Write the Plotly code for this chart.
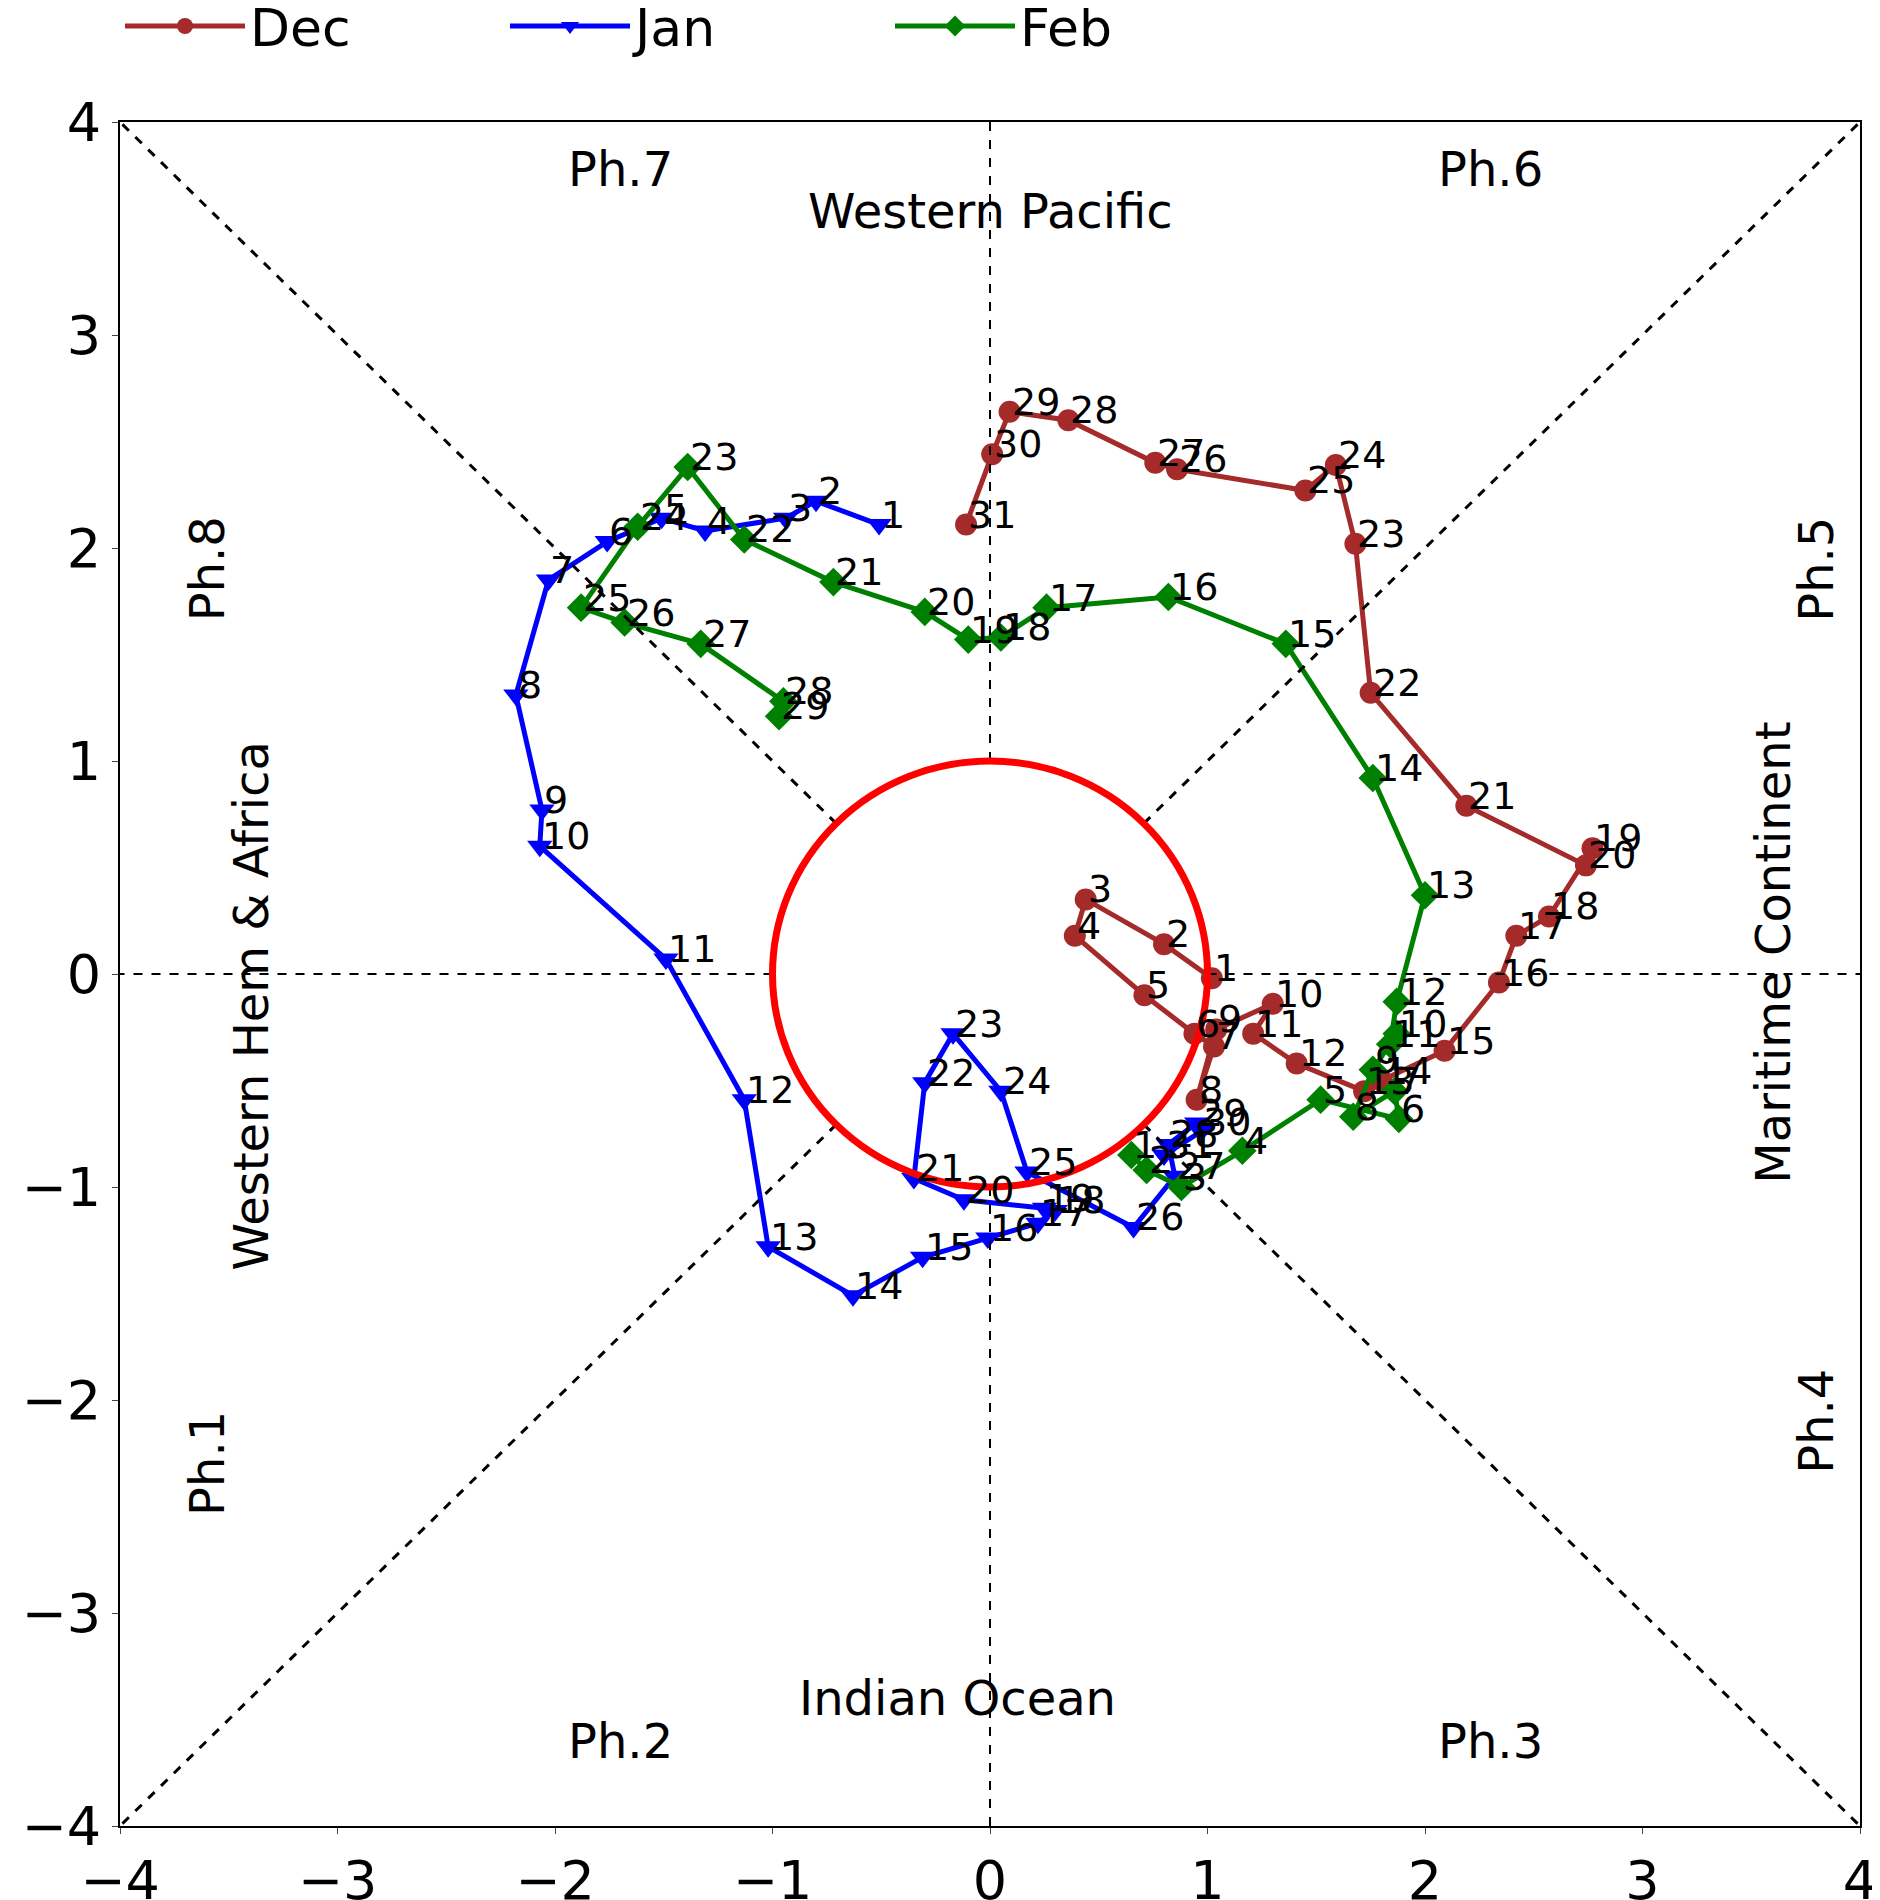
import numpy as np
import plotly.graph_objects as go

# Step 1: RMM1 / RMM2 values for each day
dec = [(1.02, -0.02), (0.80, 0.14), (0.44, 0.35), (0.39, 0.18), (0.71, -0.10), (0.94, -0.28),
       (1.03, -0.34), (0.95, -0.59), (1.04, -0.26), (1.30, -0.14), (1.21, -0.28), (1.41, -0.42),
       (1.72, -0.55), (1.80, -0.50), (2.09, -0.36), (2.34, -0.04), (2.42, 0.18), (2.57, 0.27),
       (2.77, 0.59), (2.74, 0.51), (2.19, 0.79), (1.75, 1.32), (1.68, 2.02), (1.59, 2.39),
       (1.45, 2.27), (0.86, 2.37), (0.76, 2.40), (0.36, 2.60), (0.09, 2.64), (0.01, 2.44),
       (-0.11, 2.11)]
jan = [(-0.51, 2.11), (-0.80, 2.22), (-0.94, 2.14), (-1.31, 2.08), (-1.51, 2.14), (-1.76, 2.03),
       (-2.03, 1.85), (-2.18, 1.31), (-2.06, 0.77), (-2.07, 0.60), (-1.49, 0.07), (-1.13, -0.59),
       (-1.02, -1.28), (-0.63, -1.51), (-0.31, -1.33), (-0.01, -1.24), (0.22, -1.17), (0.30, -1.11),
       (0.25, -1.10), (-0.12, -1.06), (-0.35, -0.96), (-0.30, -0.51), (-0.17, -0.28), (0.05, -0.55),
       (0.17, -0.93), (0.66, -1.19), (0.85, -0.95), (0.82, -0.80), (0.95, -0.70), (0.97, -0.74),
       (0.80, -0.85)]
feb = [(0.65, -0.85), (0.72, -0.92), (0.88, -1.00), (1.16, -0.83), (1.52, -0.59), (1.88, -0.68),
       (1.86, -0.55), (1.67, -0.67), (1.76, -0.45), (1.87, -0.28), (1.84, -0.33), (1.87, -0.13),
       (2.00, 0.37), (1.76, 0.92), (1.36, 1.55), (0.82, 1.77), (0.26, 1.72), (0.05, 1.58),
       (-0.10, 1.57), (-0.30, 1.70), (-0.72, 1.84), (-1.13, 2.04), (-1.39, 2.38), (-1.62, 2.10),
       (-1.88, 1.72), (-1.68, 1.65), (-1.33, 1.55), (-0.95, 1.28), (-0.97, 1.21)]

# Step 2: Create Plotly visualization
fig = go.Figure()

for name, pts, color, symbol in [('Dec', dec, '#a52a2a', 'circle'),
                                 ('Jan', jan, '#0000ff', 'triangle-down'),
                                 ('Feb', feb, '#008000', 'diamond')]:
    arr = np.array(pts)
    fig.add_trace(go.Scatter(
        x=arr[:, 0], y=arr[:, 1],
        mode='lines+markers', name=name,
        line=dict(color=color, width=5),
        marker=dict(symbol=symbol, size=22, color=color)
    ))
    # day numbers just to the upper right of each point
    for i, (x, y) in enumerate(arr):
        fig.add_annotation(x=x, y=y, text=str(i + 1), showarrow=False, xanchor='left', yanchor='bottom',
                           xshift=0, yshift=-14, font=dict(size=38, color='black'))

# Phase lines and unit circle
r = 1 / np.sqrt(2)
dash = dict(color='black', width=3, dash='dash')
thin = dict(color='black', width=2, dash='dash')
for sx, sy in [(1, 1), (1, -1), (-1, 1), (-1, -1)]:
    fig.add_shape(type='line', x0=sx * r, y0=sy * r, x1=sx * 4, y1=sy * 4, line=dash)
fig.add_shape(type='line', x0=1, y0=0, x1=4, y1=0, line=thin)
fig.add_shape(type='line', x0=-1, y0=0, x1=-4, y1=0, line=thin)
fig.add_shape(type='line', x0=0, y0=1, x1=0, y1=4, line=thin)
fig.add_shape(type='line', x0=0, y0=-1, x1=0, y1=-4, line=thin)
fig.add_shape(type='circle', x0=-1, y0=-1, x1=1, y1=1, line=dict(color='red', width=7))

# Phase and region names
labels = [(-1.7, 3.78, 'Ph.7', 0), (2.3, 3.78, 'Ph.6', 0), (0, 3.58, 'Western Pacific', 0),
          (-0.15, -3.4, 'Indian Ocean', 0), (-1.7, -3.6, 'Ph.2', 0), (2.3, -3.6, 'Ph.3', 0),
          (-3.6, 1.9, 'Ph.8', -90), (-3.6, -2.3, 'Ph.1', -90), (-3.4, -0.15, 'Western Hem & Africa', -90),
          (3.8, 1.9, 'Ph.5', -90), (3.8, -2.1, 'Ph.4', -90), (3.6, 0.1, 'Maritime Continent', -90)]
for x, y, t, a in labels:
    fig.add_annotation(x=x, y=y, text=t, textangle=a, showarrow=False, font=dict(size=48, color='black'))

# Customize layout
fig.update_layout(
    width=1880, height=1900,
    plot_bgcolor='white', paper_bgcolor='white',
    font=dict(family='DejaVu Sans', color='black', size=54),
    xaxis=dict(range=[-4, 4], dtick=1, showgrid=False, zeroline=False, mirror=True,
               showline=True, linecolor='black', linewidth=2, ticks='outside', ticklen=6),
    yaxis=dict(range=[-4, 4], dtick=1, showgrid=False, zeroline=False, mirror=True,
               showline=True, linecolor='black', linewidth=2, ticks='outside', ticklen=6),
    margin=dict(l=112, r=28, t=114, b=82, autoexpand=False),
    showlegend=True,
    legend=dict(orientation='h', x=0.0, y=1.08, xanchor='left', yanchor='top',
                font=dict(size=52), itemwidth=120, entrywidth=250)
)

fig.write_html('out.html')
